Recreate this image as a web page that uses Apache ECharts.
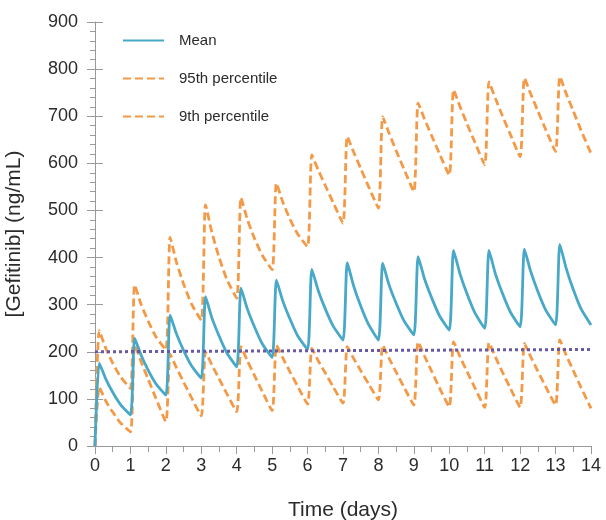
<!DOCTYPE html>
<html>
<head>
<meta charset="utf-8">
<script src="https://cdn.jsdelivr.net/npm/echarts@6/dist/echarts.min.js"></script>
<style>
html,body{margin:0;padding:0;background:#fff;}
#chart{width:606px;height:520px;}
</style>
</head>
<body>
<div id="chart"></div>
<script>
// Time points (days)
var days = [
  0,0.12,0.3,0.5,0.72,
  1,1.12,1.3,1.5,1.72,
  2,2.12,2.3,2.5,2.72,
  3,3.12,3.3,3.5,3.72,
  4,4.12,4.3,4.5,4.72,
  5,5.12,5.3,5.5,5.72,
  6,6.12,6.3,6.5,6.72,
  7,7.12,7.3,7.5,7.72,
  8,8.12,8.3,8.5,8.72,
  9,9.12,9.3,9.5,9.72,
  10,10.12,10.3,10.5,10.72,
  11,11.12,11.3,11.5,11.72,
  12,12.12,12.3,12.5,12.72,
  13,13.12,13.3,13.5,13.72,
  14
];
// Mean concentration (ng/mL)
var meanValues = [
  0,176,143,114,88,
  66,229,193,161,132,
  108,278,238,203,171,
  144,317,272,234,198,
  168,335,291,253,217,
  188,352,308,270,234,
  205,375,330,291,255,
  225,389,340,297,258,
  225,388,342,303,266,
  236,402,355,315,277,
  246,415,366,323,283,
  250,415,366,324,285,
  253,418,370,328,289,
  257,428,377,332,291,
  257
];
// 95th percentile
var p95Values = [
  0,245,208,176,147,
  122,342,301,265,232,
  204,443,390,344,302,
  267,512,453,401,354,
  314,527,481,441,405,
  374,558,518,482,450,
  423,618,586,553,517,
  473,657,624,589,551,
  505,699,664,627,588,
  540,728,694,659,621,
  575,756,721,684,645,
  597,773,738,701,662,
  614,781,747,711,672,
  625,784,748,711,670,
  621
];
// 9th percentile
var p9Values = [
  0,125,96,72,49,
  30,215,179,142,101,
  52,195,166,136,103,
  64,200,172,143,111,
  73,211,181,150,116,
  75,214,187,158,127,
  89,207,181,155,126,
  91,211,186,160,132,
  98,214,186,157,125,
  87,221,191,159,124,
  83,221,190,158,124,
  82,219,189,157,123,
  82,218,189,159,126,
  87,225,193,160,124,
  80
];
// Reference (dotted) line
var refDays = [0, 14];
var refValues = [200, 205];

var seriesNames = ['Mean', '95th percentile', '9th percentile'];
var xTicks = {min: 0, max: 14, step: 1};
var yTicks = {min: 0, max: 900, step: 100};

function pairs(xs, ys) {
  var out = [];
  for (var i = 0; i < xs.length; i++) out.push([xs[i], ys[i]]);
  return out;
}

var FONT = "'Liberation Sans', Arial, Helvetica, sans-serif";
var AXIS_COLOR = '#9a9a9a';
var TEXT_COLOR = '#2b2b2b';
var BLUE = '#48a8c7';
var ORANGE = '#f29a48';
var PURPLE = '#6a59a6';

var chart = echarts.init(document.getElementById('chart'), null, {renderer: 'canvas'});
chart.setOption({
  animation: false,
  textStyle: {fontFamily: FONT},
  grid: {left: 95, right: 15, top: 22, bottom: 74, containLabel: false, outerBoundsMode: 'none'},
  legend: {
    data: seriesNames,
    orient: 'vertical',
    left: 117,
    top: 28,
    itemWidth: 41,
    itemHeight: 14,
    itemGap: 23,
    itemStyle: {opacity: 0},
    textStyle: {fontSize: 15, color: TEXT_COLOR, fontFamily: FONT, padding: [0, 0, 0, 10]}
  },
  xAxis: {
    type: 'value',
    min: xTicks.min, max: xTicks.max, interval: xTicks.step,
    name: 'Time (days)',
    nameLocation: 'middle',
    nameGap: 54,
    nameTextStyle: {fontSize: 21, color: TEXT_COLOR, fontFamily: FONT},
    axisLine: {show: true, lineStyle: {color: AXIS_COLOR, width: 1}},
    axisTick: {show: true, length: 8, lineStyle: {color: AXIS_COLOR}},
    minorTick: {show: true, splitNumber: 2, length: 6, lineStyle: {color: AXIS_COLOR}},
    axisLabel: {fontSize: 18, color: TEXT_COLOR, margin: 11, fontFamily: FONT},
    splitLine: {show: false},
    minorSplitLine: {show: false}
  },
  yAxis: [{
    type: 'value',
    min: yTicks.min, max: yTicks.max, interval: yTicks.step,
    name: '[Gefitinib] (ng/mL)',
    nameLocation: 'middle',
    nameGap: 70,
    nameTextStyle: {fontSize: 21, color: TEXT_COLOR, fontFamily: FONT},
    axisLine: {show: true, lineStyle: {color: AXIS_COLOR, width: 1}},
    axisTick: {show: true, length: 8, lineStyle: {color: AXIS_COLOR}},
    minorTick: {show: true, splitNumber: 5, length: 5, lineStyle: {color: AXIS_COLOR}},
    axisLabel: {fontSize: 18, color: TEXT_COLOR, margin: 17, fontFamily: FONT},
    splitLine: {show: false},
    minorSplitLine: {show: false}
  }, {
    type: 'value',
    position: 'left',
    offset: 0,
    min: yTicks.min, max: yTicks.max, interval: yTicks.step,
    axisLine: {show: false},
    axisTick: {show: true, inside: true, length: 8, lineStyle: {color: AXIS_COLOR}},
    axisLabel: {show: false},
    splitLine: {show: false}
  }],
  series: [{
    name: seriesNames[0],
    type: 'line',
    data: pairs(days, meanValues),
    symbol: 'none',
    smooth: 0.2,
    z: 3,
    lineStyle: {color: BLUE, width: 2.8},
    itemStyle: {color: BLUE}
  }, {
    name: seriesNames[1],
    type: 'line',
    data: pairs(days, p95Values),
    symbol: 'none',
    smooth: 0.2,
    z: 2,
    lineStyle: {color: ORANGE, width: 2.8, type: [8, 4]},
    itemStyle: {color: ORANGE}
  }, {
    name: seriesNames[2],
    type: 'line',
    data: pairs(days, p9Values),
    symbol: 'none',
    smooth: 0.2,
    z: 2,
    lineStyle: {color: ORANGE, width: 2.8, type: [8, 4]},
    itemStyle: {color: ORANGE}
  }, {
    name: 'reference',
    type: 'line',
    data: pairs(refDays, refValues),
    symbol: 'none',
    z: 4,
    lineStyle: {color: PURPLE, width: 3, type: [3, 3]},
    itemStyle: {color: PURPLE}
  }]
});
</script>
</body>
</html>
